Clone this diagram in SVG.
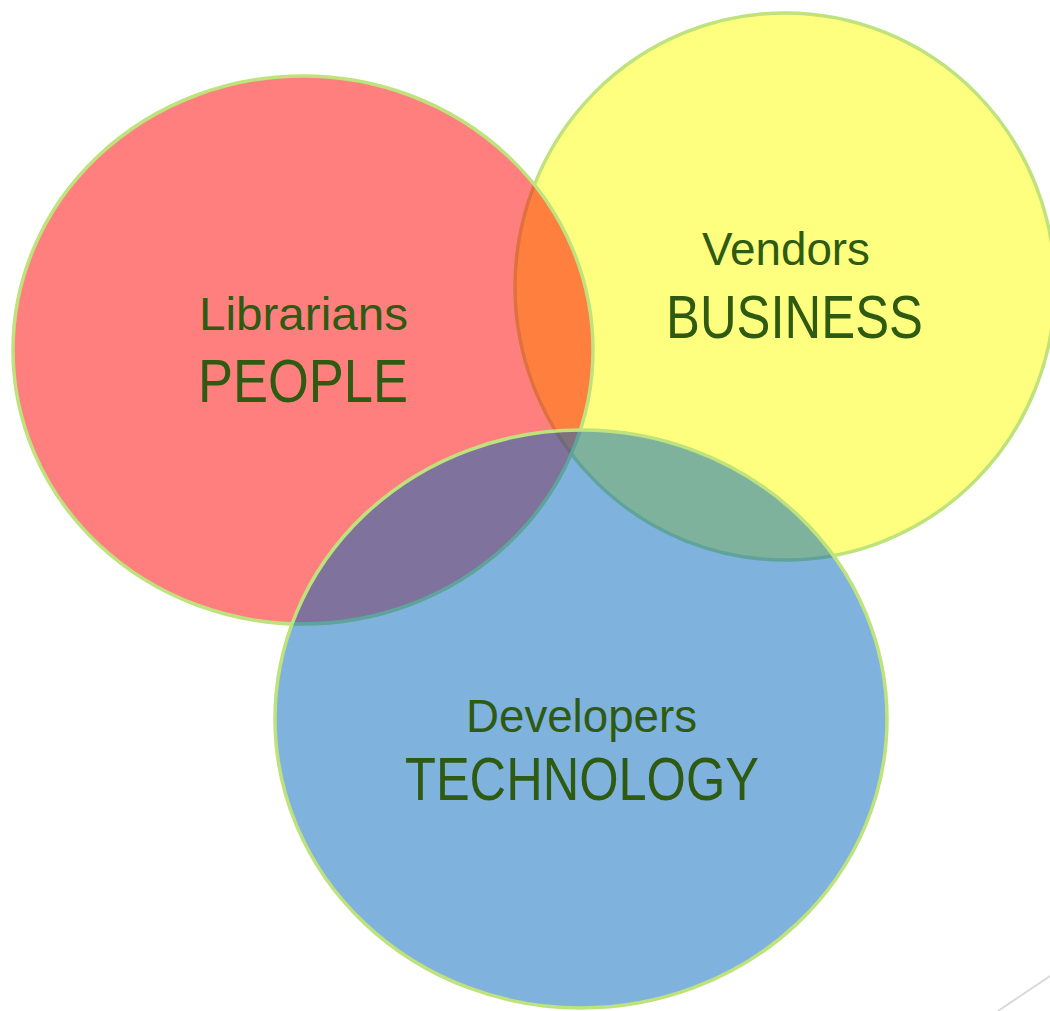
<svg xmlns="http://www.w3.org/2000/svg" width="1050" height="1011" viewBox="0 0 1050 1011">
<style>
.c{stroke:#BEE27C;stroke-width:3.5}
.t{font-family:"Liberation Sans",Arial,sans-serif;fill:#2E5A12}
.s{font-size:46px}
.b{font-size:62px}
</style>
<rect width="1050" height="1011" fill="#FFFFFF"/>
<g id="vendors">
<ellipse class="c" cx="785" cy="286.5" rx="270" ry="273.5" fill="#FFFF00" fill-opacity="0.5"/>
</g>
<g id="librarians">
<ellipse class="c" cx="303" cy="350" rx="290" ry="274" fill="#FF0000" fill-opacity="0.5"/>
</g>
<g id="developers">
<ellipse class="c" cx="581" cy="719" rx="306" ry="289" fill="#0066BB" fill-opacity="0.5"/>
</g>
<g id="labels">
<text class="t s" x="199" y="330" textLength="209" lengthAdjust="spacingAndGlyphs">Librarians</text>
<text class="t b" x="198" y="402" textLength="210" lengthAdjust="spacingAndGlyphs">PEOPLE</text>
<text class="t s" x="702" y="265" textLength="168" lengthAdjust="spacingAndGlyphs">Vendors</text>
<text class="t b" x="666" y="338" textLength="257" lengthAdjust="spacingAndGlyphs">BUSINESS</text>
<text class="t s" x="466" y="732" textLength="231" lengthAdjust="spacingAndGlyphs">Developers</text>
<text class="t b" x="405" y="800" textLength="354" lengthAdjust="spacingAndGlyphs">TECHNOLOGY</text>
</g>
<g id="connectors">
<line x1="998" y1="1011" x2="1050" y2="976" stroke="#D9D9D9" stroke-width="2"/>
</g>
</svg>
